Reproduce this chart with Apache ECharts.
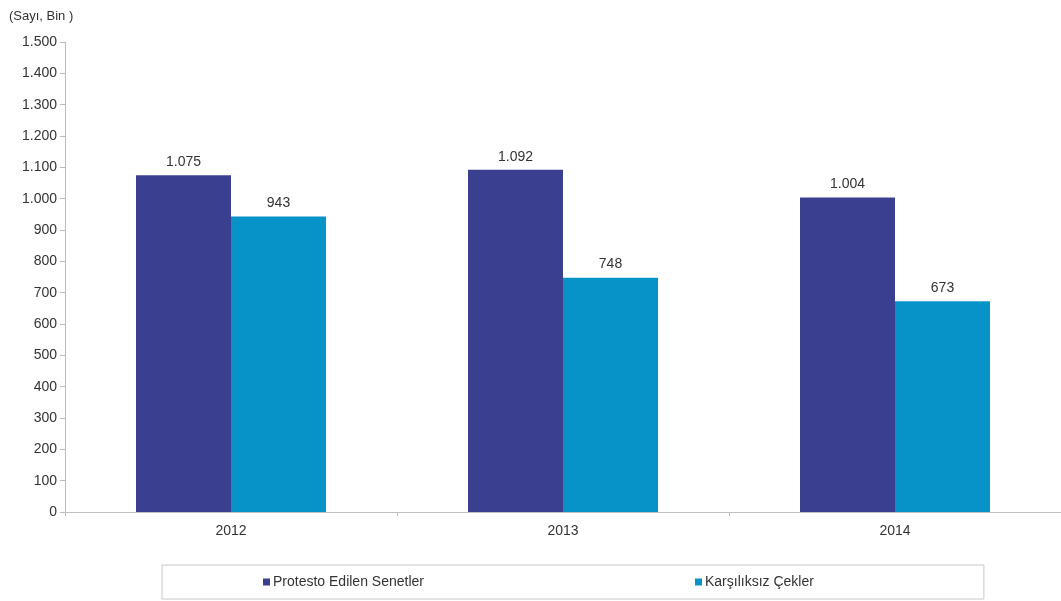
<!DOCTYPE html>
<html>
<head>
<meta charset="utf-8">
<script src="https://cdn.jsdelivr.net/npm/echarts@6/dist/echarts.min.js"></script>
<style>
  html, body { margin: 0; padding: 0; background: #fff; }
  #chart { width: 1061px; height: 601px; }
</style>
</head>
<body>
<div id="chart"></div>
<script>
const years = ["2012", "2013", "2014"];
const protestoSenetler = [1075, 1092, 1004];
const karsiliksizCekler = [943, 748, 673];

// Turkish thousands separator: 1.075
function fmt(v) {
  return String(v).replace(/\B(?=(\d{3})+(?!\d))/g, ".");
}

const chart = echarts.init(document.getElementById("chart"));
const option = {
  animation: false,
  textStyle: { fontFamily: "Liberation Sans, Arial, sans-serif" },
  title: {
    text: "(Sayı, Bin )",
    left: 4,
    top: 5,
    textStyle: { fontSize: 13, fontWeight: "normal", color: "#333" }
  },
  grid: {
    left: 65,
    width: 999,
    top: 42,
    bottom: 89,
    containLabel: false
  },
  legend: {
    left: 162,
    top: 565,
    itemWidth: 7,
    itemHeight: 7,
    itemGap: 271,
    icon: "rect",
    borderColor: "#c8c8c8",
    borderWidth: 1,
    padding: [10, 170, 10, 101],
    textStyle: { fontSize: 14, color: "#333", padding: [0, 0, 0, -2] },
    data: ["Protesto Edilen Senetler", "Karşılıksız Çekler"]
  },
  xAxis: {
    type: "category",
    data: years,
    axisLine: { lineStyle: { color: "#bdbdbd", width: 1 } },
    axisTick: { show: true, length: 4, lineStyle: { color: "#bdbdbd" } },
    axisLabel: { fontSize: 14, color: "#333", margin: 12 }
  },
  yAxis: {
    type: "value",
    min: 0,
    max: 1500,
    interval: 100,
    axisLine: { show: true, lineStyle: { color: "#bdbdbd", width: 1 } },
    axisTick: { show: true, length: 5, lineStyle: { color: "#bdbdbd" } },
    splitLine: { show: false },
    axisLabel: { fontSize: 14, color: "#333", margin: 8, formatter: fmt }
  },
  series: [
    {
      name: "Protesto Edilen Senetler",
      type: "bar",
      data: protestoSenetler,
      barWidth: 95,
      barGap: "0%",
      itemStyle: { color: "#3a3f8f" },
      label: { show: true, position: "top", fontSize: 14, color: "#333", distance: 6, formatter: p => fmt(p.value) }
    },
    {
      name: "Karşılıksız Çekler",
      type: "bar",
      data: karsiliksizCekler,
      barWidth: 95,
      barGap: "0%",
      itemStyle: { color: "#0893c8" },
      label: { show: true, position: "top", fontSize: 14, color: "#333", distance: 6, formatter: p => fmt(p.value) }
    }
  ]
};
chart.setOption(option);
</script>
</body>
</html>
